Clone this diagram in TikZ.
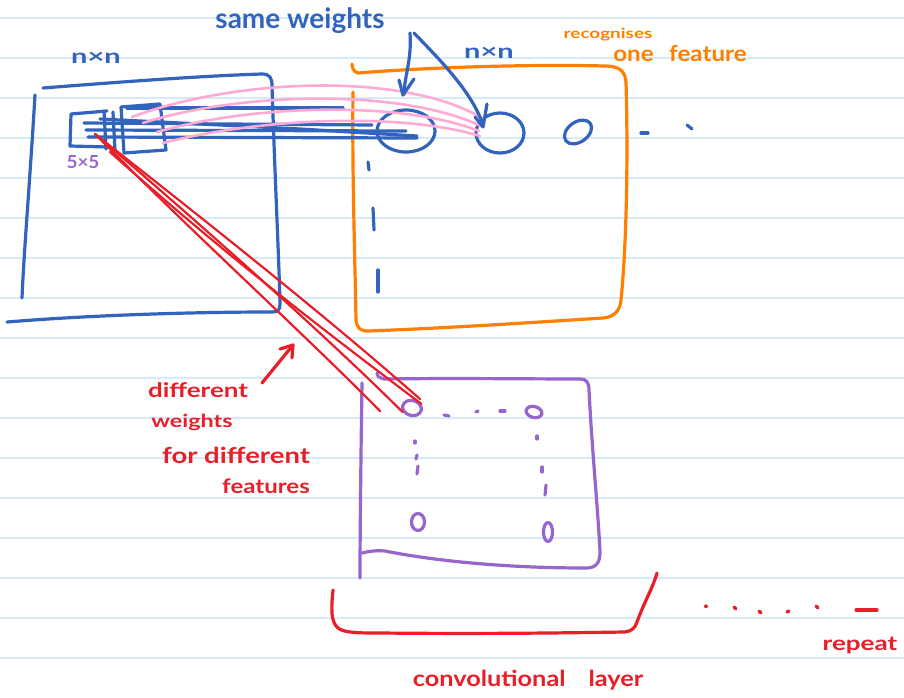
\documentclass[tikz,border=0pt]{standalone}
\usepackage{graphicx}
\usepackage{fontspec}
\setmainfont{Lato}
\usetikzlibrary{arrows.meta,shapes.geometric}
\definecolor{inkblue}{RGB}{50,100,190}
\definecolor{inkorange}{RGB}{255,128,0}
\definecolor{inkpurple}{RGB}{150,102,204}
\definecolor{inkred}{RGB}{232,30,40}
\definecolor{inkpink}{RGB}{255,170,212}
\definecolor{ruling}{RGB}{214,234,250}
% wide, bold lettering in the spirit of pen writing
\newcommand{\penwrite}[3]{\fontsize{#1}{#1}\selectfont\bfseries\scalebox{#2}[1]{#3}}
\tikzset{
  pen/.style={line width=3.2pt, line cap=round, line join=round},
  bluepen/.style={pen, draw=inkblue},
  orangepen/.style={pen, draw=inkorange},
  purplepen/.style={pen, draw=inkpurple},
  redpen/.style={pen, draw=inkred},
  redfine/.style={line width=2.2pt, line cap=round, line join=round, draw=inkred},
  pinkpen/.style={line width=2.6pt, line cap=round, draw=inkpink},
  ruled/.style={line width=1.6pt, draw=ruling},
  hand/.style={inner sep=0pt, anchor=center},
}
\begin{document}
\begin{tikzpicture}[x=1pt,y=-1pt]
\useasboundingbox (0,0) rectangle (904,698);
\fill[white] (0,0) rectangle (904,698);
% ruled notebook paper
\foreach \k in {0,...,16} \draw[ruled] (0,18+40*\k) -- (904,18+40*\k);

% ---------- input image (n x n) ----------
\draw[bluepen] (35,95) .. controls (30,180) and (24,250) .. (22,298);
\draw[bluepen] (43,88) .. controls (120,82) and (200,76) .. (262,74)
  .. controls (270,74) and (272,78) .. (272,86)
  .. controls (275,180) and (279,260) .. (280,304)
  .. controls (280,310) and (278,312) .. (272,312)
  .. controls (180,312) and (80,316) .. (7,322);
\node[hand, text=inkblue] (inlabel) at (96,58) {\penwrite{20}{1.45}{n×n}};

% 5x5 receptive field windows
\draw[bluepen] (107,111) -- (71,114) -- (70,146) -- (108,147);
\draw[bluepen] (104,111) -- (106,149);
\draw[bluepen] (113,112) -- (115,151);
\draw[bluepen] (121,107) -- (160,104) -- (166,150) -- (124,153) -- cycle;
\node[hand, text=inkpurple] (fivelabel) at (83,162) {\penwrite{18}{1.05}{5×5}};

% ---------- feature map (orange) ----------
\draw[orangepen] (353,92) .. controls (352,170) and (355,260) .. (356,320)
  .. controls (357,328) and (360,331) .. (368,331)
  .. controls (450,328) and (540,322) .. (603,318)
  .. controls (615,317) and (620,310) .. (621,300)
  .. controls (627,240) and (628,150) .. (626,82)
  .. controls (625,70) and (618,66) .. (605,66)
  .. controls (520,64) and (420,68) .. (358,73)
  .. controls (354,72) and (352,68) .. (352,64);
\node[hand, text=inkblue] (fmlabel) at (489,53) {\penwrite{20}{1.45}{n×n}};
\node[hand, text=inkorange] (recog) at (608,35) {\penwrite{14}{1.35}{recognises}};
\node[hand, text=inkorange] (onefeat) at (680,53) {\penwrite{22}{1.1}{one\hspace{14pt}feature}};

% neurons of the feature map
\node[bluepen, ellipse, draw, minimum width=58pt, minimum height=42pt, inner sep=0pt] (n1) at (406,131) {};
\node[bluepen, ellipse, draw, minimum width=48pt, minimum height=40pt, inner sep=0pt] (n2) at (500,133) {};
\node[bluepen, ellipse, draw, minimum width=30pt, minimum height=20pt, inner sep=0pt, rotate=35] (n3) at (578,132) {};
\draw[bluepen] (641,133) -- (648,133);
\draw[bluepen] (687,125) -- (692,129);
\draw[bluepen] (368,162) -- (369,170);
\draw[bluepen] (373,208) -- (374,230);
\draw[bluepen] (378,270) -- (378,292);

% shared weights from the windows to the neurons
\coordinate (w1) at (127,108);
\coordinate (w2) at (84,123);
\coordinate (w3) at (86,130);
\coordinate (w4) at (88,137);
\draw[bluepen] (w1) -- (343,108);
\draw[bluepen] (w2) -- (372,125);
\draw[bluepen] (w3) -- (n1.center);
\draw[bluepen] (w4) -- (417,138);
\draw[bluepen] (100,119) -- (300,129) -- (417,136);

\coordinate (p1) at (132,117);
\coordinate (p2) at (143,123);
\coordinate (p3) at (157,132);
\coordinate (p4) at (163,143);
\draw[pinkpen] (p1) .. controls (230,80) and (400,70) .. (482,118);
\draw[pinkpen] (p2) .. controls (240,92) and (400,88) .. (481,126);
\draw[pinkpen] (p3) .. controls (250,105) and (400,100) .. (479,131);
\draw[pinkpen] (p4) .. controls (260,118) and (400,112) .. (480,136);

% "same weights" with its two arrows
\node[hand, text=inkblue] (same) at (300,21) {\penwrite{28}{1.0}{same weights}};
\coordinate (sa) at (410,33);
\coordinate (sb) at (414,33);
\draw[bluepen] (sa) .. controls (412,60) and (404,78) .. (404,94);
\draw[bluepen] (399,80) -- (403,95) -- (414,79);
\draw[bluepen] (sb) .. controls (440,60) and (470,90) .. (482,122);
\draw[bluepen] (475,117) -- (483,127) -- (487,104);

% ---------- second feature map (purple) ----------
\draw[purplepen] (377,373) .. controls (378,377) .. (384,379)
  .. controls (450,378) and (530,379) .. (580,379)
  .. controls (586,379) and (589,382) .. (589,390)
  .. controls (592,450) and (598,510) .. (600,552)
  .. controls (600,563) and (596,568) .. (586,568)
  .. controls (500,568) and (430,560) .. (385,551)
  .. controls (375,550) and (366,552) .. (362,553);
\draw[purplepen] (362,383) .. controls (361,450) and (360,530) .. (360,578);
\node[purplepen, ellipse, draw, minimum width=19pt, minimum height=15pt, inner sep=0pt, rotate=-15] (q1) at (412,408) {};
\node[purplepen, ellipse, draw, minimum width=16pt, minimum height=11pt, inner sep=0pt, rotate=-15] (q2) at (534,412) {};
\node[purplepen, ellipse, draw, minimum width=13pt, minimum height=17pt, inner sep=0pt] (q3) at (418,522) {};
\node[purplepen, ellipse, draw, minimum width=9pt, minimum height=19pt, inner sep=0pt] (q4) at (548,532) {};
\draw[purplepen] (444,415) -- (449,416);
\draw[purplepen] (476,412) -- (478,411);
\draw[purplepen] (500,411) -- (505,411);
\draw[purplepen] (415,441) -- (415,443);
\draw[purplepen] (417,455) -- (416,459);
\draw[purplepen] (418,466) -- (417,474);
\draw[purplepen] (537,436) -- (537,439);
\draw[purplepen] (542,467) -- (542,472);
\draw[purplepen] (546,485) -- (545,495);

% different weights towards the second map
\coordinate (r1) at (95,134);
\coordinate (r2) at (110,152);
\draw[redfine] (r1) .. controls (200,240) and (300,330) .. (380,411);
\draw[redfine] (r1) .. controls (190,215) and (320,330) .. (q1.south west);
\draw[redfine] (r1) .. controls (230,240) and (330,320) .. (420,399);
\draw[redfine] (r2) .. controls (220,250) and (310,320) .. (q1.north east);
\node[hand, text=inkred] (diff1) at (198,390) {\penwrite{20}{1.3}{different}};
\node[hand, text=inkred] (wts) at (192,422) {\penwrite{18}{1.3}{weights}};
\node[hand, text=inkred] (diff2) at (236,455) {\penwrite{22}{1.25}{for different}};
\node[hand, text=inkred] (feats) at (266,486) {\penwrite{20}{1.2}{features}};
\coordinate (rtip) at (293,345);
\draw[redpen] (262,383) -- (rtip);
\draw[redpen] (280,349) -- (rtip) -- (292,358);

% ---------- convolutional layer bracket ----------
\draw[redpen] (333,590) .. controls (331,610) and (331,622) .. (338,628)
  .. controls (344,633) and (360,633) .. (380,633)
  .. controls (480,634) and (560,633) .. (625,632)
  .. controls (632,631) and (635,628) .. (637,622)
  .. controls (645,600) and (652,590) .. (657,573);
\node[hand, text=inkred] (conv) at (528,680) {\penwrite{22}{1.15}{convolutional\hspace{20pt}layer}};
\draw[redpen] (706,606) -- (706,606.5);
\draw[redpen] (734,607) -- (736,609);
\draw[redpen] (759,611) -- (761,613);
\draw[redpen] (787,612) -- (789,611);
\draw[redpen] (816,606) -- (818,608);
\draw[redpen] (856,610) -- (877,610);
\node[hand, text=inkred] (rep) at (860,645) {\penwrite{20}{1.3}{repeat}};
\end{tikzpicture}
\end{document}
